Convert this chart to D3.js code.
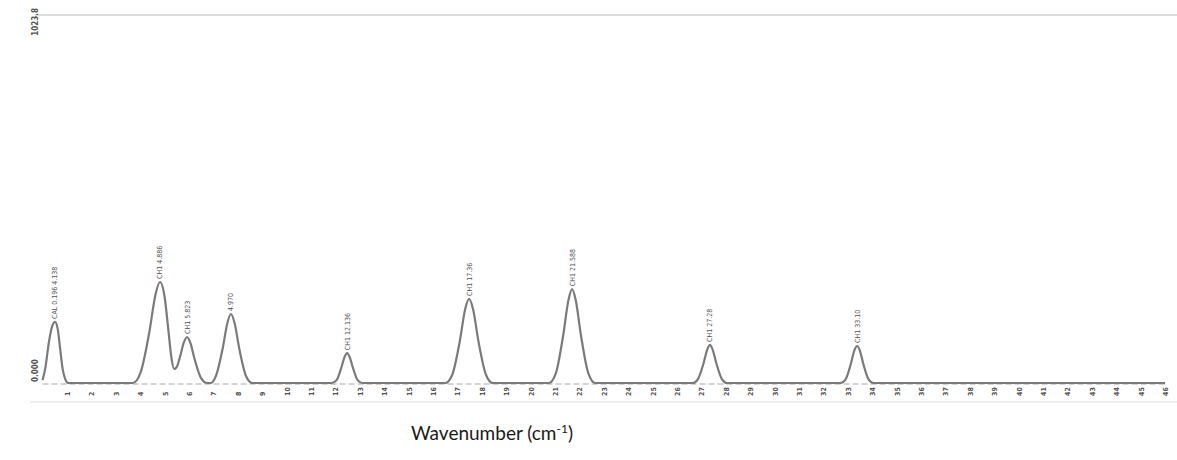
<!DOCTYPE html>
<html lang="en">
<head>
<meta charset="UTF-8">
<script src="https://d3js.org/d3.v7.min.js"></script>
<title>Chromatogram</title>
<style>
  body { margin: 0; background: #fff; }
  .tick-label { font: bold 7px "DejaVu Sans Condensed", sans-serif; fill: #555; }
  .peak-label { font: 7px "DejaVu Sans Condensed", sans-serif; fill: #555; }
  .title { font: 19px Lato, "Open Sans", sans-serif; fill: #1a1a1a; }
</style>
</head>
<body>
<script>
// x tick labels (minutes on the recorder strip)
var xTicks = d3.range(1, 47);

// y range labels
var yMin = 0, yMax = 1023.8;
var yLabels = ["0.000", "1023.8"];

// trace: [time, signal]
var trace = [
  [0, 8], [0.12, 45], [0.25, 110], [0.38, 155], [0.51, 170], [0.62, 150], [0.72, 95], [0.82, 40], [0.92, 12], [1.05, 0],
  [3.7, 0], [4.01, 28], [4.37, 140], [4.63, 247], [4.81, 281], [5.0, 240], [5.15, 150], [5.28, 70], [5.39, 39],
  [5.5, 45], [5.62, 70], [5.79, 113], [5.92, 128], [6.05, 113], [6.24, 64], [6.5, 13], [6.75, 0],
  [6.9, 0], [7.1, 19], [7.38, 96], [7.58, 169], [7.72, 192], [7.86, 169], [8.06, 96], [8.34, 19], [8.6, 0],
  [11.85, 0], [12.05, 8], [12.24, 42], [12.38, 73], [12.48, 83], [12.58, 73], [12.72, 42], [12.91, 8], [13.1, 0],
  [16.5, 0], [16.79, 23], [17.1, 117], [17.32, 206], [17.48, 234], [17.64, 206], [17.86, 117], [18.17, 23], [18.45, 0],
  [20.75, 0], [21.03, 26], [21.33, 130], [21.55, 230], [21.7, 261], [21.85, 230], [22.07, 130], [22.37, 26], [22.65, 0],
  [26.65, 0], [26.86, 11], [27.08, 53], [27.24, 93], [27.35, 106], [27.46, 93], [27.62, 53], [27.84, 11], [28.05, 0],
  [32.7, 0], [32.91, 10], [33.12, 52], [33.27, 91], [33.38, 103], [33.49, 91], [33.64, 52], [33.85, 10], [34.05, 0],
  [46, 0]
];

// peak annotations
var peakTimes = [0.51, 4.81, 5.92, 7.72, 12.48, 17.48, 21.7, 27.35, 33.38];
var peakHeights = [170, 281, 128, 192, 83, 234, 261, 106, 103];
var peakNames = ["CAL 0.196  4.138", "CH1 4.886", "CH1 5.823", "4.970", "CH1 12.136", "CH1 17.36", "CH1 21.588", "CH1 27.28", "CH1 33.10"];

var width = 1177, height = 460;
var x0 = 42.6, x46 = 1165, yBase = 383, yTop = 15;

var x = d3.scaleLinear().domain([0, 46]).range([x0, x46]);
var y = d3.scaleLinear().domain([yMin, yMax]).range([yBase, yTop]);

var svg = d3.select("body").append("svg")
    .attr("width", width)
    .attr("height", height);

// top border of the strip
svg.append("line")
    .attr("x1", 35).attr("x2", width)
    .attr("y1", y(yMax)).attr("y2", y(yMax))
    .attr("stroke", "#bbb").attr("stroke-width", 1.2);

// faint lower scan edge
svg.append("line")
    .attr("x1", 30).attr("x2", width)
    .attr("y1", 402).attr("y2", 402)
    .attr("stroke", "#e6e6e6").attr("stroke-width", 1.5);

// baseline, dashed like the recorder
svg.append("line")
    .attr("x1", x(0)).attr("x2", x(46))
    .attr("y1", y(0) + 1).attr("y2", y(0) + 1)
    .attr("stroke", "#aaa").attr("stroke-width", 1)
    .attr("stroke-dasharray", "6,3");

// x axis: rotated small labels
var xAxis = d3.axisBottom(x).tickValues(xTicks).tickSize(0).tickPadding(0);
var gx = svg.append("g")
    .attr("transform", "translate(0," + (y(0) + 4) + ")")
    .call(xAxis);
gx.select(".domain").remove();
gx.selectAll("text")
    .attr("class", "tick-label")
    .attr("transform", "rotate(-90)")
    .attr("x", -9).attr("y", 0).attr("dy", "0.35em")
    .style("text-anchor", "start");

// y range labels, rotated
svg.append("text")
    .attr("class", "tick-label")
    .attr("transform", "translate(35," + (y(0) - 1) + ") rotate(-90)")
    .attr("dy", "0.35em")
    .style("font-size", "8px")
    .text(yLabels[0]);
svg.append("text")
    .attr("class", "tick-label")
    .attr("transform", "translate(35," + (y(yMax) - 7) + ") rotate(-90)")
    .attr("dy", "0.35em")
    .style("font-size", "8px")
    .style("text-anchor", "end")
    .text(yLabels[1]);

// trace
var line = d3.line()
    .x(function(d) { return x(d[0]); })
    .y(function(d) { return y(d[1]); })
    .curve(d3.curveMonotoneX);

svg.append("path")
    .datum(trace)
    .attr("fill", "none")
    .attr("stroke", "#7a7a7a")
    .attr("stroke-width", 2.2)
    .attr("d", line);

// peak labels
svg.selectAll(".peak-label")
    .data(peakTimes)
  .enter().append("text")
    .attr("class", "peak-label")
    .attr("transform", function(d, i) {
      return "translate(" + x(d) + "," + (y(peakHeights[i]) - 3) + ") rotate(-90)";
    })
    .attr("dy", "0.35em")
    .style("text-anchor", "start")
    .text(function(d, i) { return peakNames[i]; });

// axis title
var title = svg.append("text")
    .attr("class", "title")
    .attr("x", 492).attr("y", 440)
    .style("text-anchor", "middle");
title.append("tspan").text("Wavenumber (cm");
title.append("tspan").attr("dy", -7).style("font-size", "12px").text("-1");
title.append("tspan").attr("dy", 7).text(")");
</script>
</body>
</html>
